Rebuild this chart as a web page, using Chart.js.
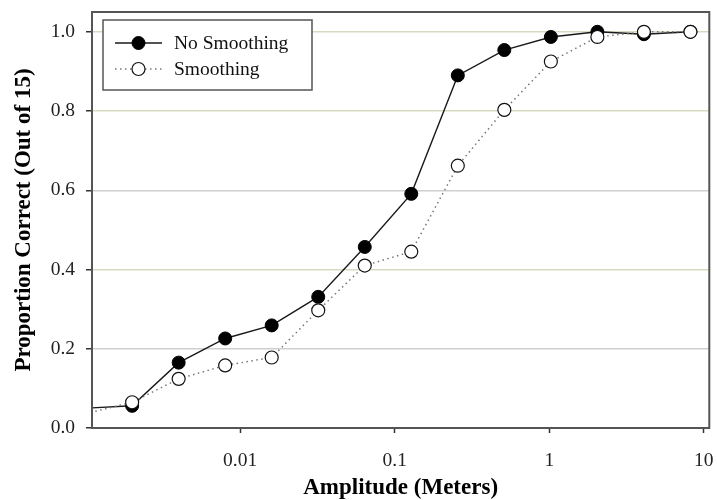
<!DOCTYPE html>
<html>
<head>
<meta charset="utf-8">
<script src="https://cdn.jsdelivr.net/npm/chart.js@4"></script>
<style>
  html, body { margin: 0; padding: 0; background: #fff; }
  #wrap { width: 717px; height: 500px; position: relative; }
</style>
</head>
<body>
<div id="wrap"><canvas id="c"></canvas></div>
<script>
// ---- data ----
const amplitudes   = [0.001, 0.002, 0.004, 0.008, 0.016, 0.032, 0.064, 0.128, 0.256, 0.512, 1.024, 2.048, 4.096, 8.192];
const noSmoothing  = [0.050, 0.056, 0.165, 0.226, 0.259, 0.331, 0.457, 0.591, 0.890, 0.954, 0.987, 1.000, 0.994, 1.000];
const smoothing    = [0.036, 0.065, 0.124, 0.158, 0.178, 0.297, 0.410, 0.445, 0.662, 0.803, 0.925, 0.987, 1.000, 1.000];
const seriesNames  = ['No Smoothing', 'Smoothing'];
const xTickValues  = [0.01, 0.1, 1, 10];
const xTickLabels  = ['0.01', '0.1', '1', '10'];
const yTickValues  = [0, 0.2, 0.4, 0.6, 0.8, 1.0];
const yTickLabels  = ['0.0', '0.2', '0.4', '0.6', '0.8', '1.0'];
const xTitle = 'Amplitude (Meters)';
const yTitle = 'Proportion Correct (Out of 15)';
const X_MIN = 0.0011, X_MAX = 10.85, Y_MIN = 0, Y_MAX = 1.05;

const FONT = "'Liberation Serif', 'Times New Roman', serif";

function pts(ys) { return amplitudes.map((a, i) => ({ x: a, y: ys[i] })); }
const radiusFn = ctx => (ctx.raw && ctx.raw.x < X_MIN) ? 0 : 6.5;

const datasets = [
  {
    label: seriesNames[0],
    data: pts(noSmoothing),
    borderColor: '#1a1a1a',
    borderWidth: 1.4,
    pointBackgroundColor: '#000',
    pointBorderColor: '#000',
    pointBorderWidth: 1,
    pointRadius: radiusFn,
    tension: 0,
    order: 1
  },
  {
    label: seriesNames[1],
    data: pts(smoothing),
    borderColor: '#777',
    borderWidth: 1.5,
    borderDash: [1.5, 3.5],
    pointBackgroundColor: '#fff',
    pointBorderColor: '#111',
    pointBorderWidth: 1.2,
    pointRadius: radiusFn,
    tension: 0,
    order: 0
  }
];

const framePlugin = {
  id: 'frameAndLegend',
  afterDraw(chart) {
    const ctx = chart.ctx, a = chart.chartArea;
    ctx.save();
    ctx.strokeStyle = '#555';
    ctx.lineWidth = 2;
    ctx.strokeRect(a.left, a.top, a.right - a.left, a.bottom - a.top);
    const bx = a.left + 11, by = a.top + 8, bw = 209, bh = 70;
    ctx.fillStyle = '#fff';
    ctx.fillRect(bx, by, bw, bh);
    ctx.strokeStyle = '#555';
    ctx.lineWidth = 1.5;
    ctx.strokeRect(bx, by, bw, bh);
    const rows = [by + 23, by + 49];
    chart.data.datasets.forEach((ds, i) => {
      const y = rows[i];
      const x0 = bx + 12, x1 = bx + 59, xm = (x0 + x1) / 2;
      ctx.beginPath();
      ctx.strokeStyle = ds.borderColor;
      ctx.lineWidth = ds.borderWidth;
      ctx.setLineDash(ds.borderDash || []);
      ctx.moveTo(x0, y); ctx.lineTo(x1, y);
      ctx.stroke();
      ctx.setLineDash([]);
      ctx.beginPath();
      ctx.arc(xm, y, 6.5, 0, Math.PI * 2);
      ctx.fillStyle = ds.pointBackgroundColor;
      ctx.fill();
      ctx.lineWidth = ds.pointBorderWidth;
      ctx.strokeStyle = ds.pointBorderColor;
      ctx.stroke();
      ctx.fillStyle = '#111';
      ctx.font = '19.5px ' + FONT;
      ctx.textBaseline = 'middle';
      ctx.textAlign = 'left';
      ctx.fillText(ds.label, bx + 71, y + 1);
    });
    ctx.restore();
  }
};

new Chart(document.getElementById('c'), {
  type: 'line',
  data: { datasets },
  plugins: [framePlugin],
  options: {
    responsive: true,
    maintainAspectRatio: false,
    animation: false,
    layout: { padding: { top: 12, right: 2, left: 0, bottom: 0 } },
    plugins: { legend: { display: false }, tooltip: { enabled: false } },
    scales: {
      x: {
        type: 'logarithmic',
        min: X_MIN, max: X_MAX,
        afterBuildTicks: s => { s.ticks = xTickValues.map(v => ({ value: v })); },
        afterFit: s => { s.height = 72; s.paddingLeft = 0; s.paddingRight = 0; },
        ticks: {
          callback: v => { const i = xTickValues.indexOf(v); return i >= 0 ? xTickLabels[i] : ''; },
          font: { family: FONT, size: 19.5 },
          color: '#222',
          padding: 16,
          maxRotation: 0,
          autoSkip: false
        },
        grid: { drawOnChartArea: false, drawTicks: true, tickLength: 5, tickColor: '#333', tickWidth: 1.5 },
        border: { color: '#555', width: 2 },
        title: { display: true, text: xTitle, font: { family: FONT, size: 23, weight: 'bold' }, color: '#000', padding: { top: 0, bottom: -2 } }
      },
      y: {
        min: Y_MIN, max: Y_MAX,
        afterBuildTicks: s => { s.ticks = yTickValues.map(v => ({ value: v })); },
        afterFit: s => { s.width = 92; s.paddingTop = 0; s.paddingBottom = 0; },
        ticks: {
          callback: v => { const i = yTickValues.indexOf(v); return i >= 0 ? yTickLabels[i] : ''; },
          font: { family: FONT, size: 19.5 },
          color: '#222',
          padding: 11
        },
        grid: {
          color: ctx => {
            const v = ctx.tick ? ctx.tick.value : null;
            if (v === 0) return 'rgba(0,0,0,0)';
            if (Math.abs(v - 0.2) < 1e-9 || Math.abs(v - 0.6) < 1e-9) return '#cfcfcb';
            return '#d9d9c2';
          },
          lineWidth: 1.5,
          drawTicks: true,
          tickLength: 6,
          tickColor: '#333',
          tickWidth: 1.5
        },
        border: { color: '#555', width: 2 },
        title: { display: true, text: yTitle, font: { family: FONT, size: 23, weight: 'bold' }, color: '#000', padding: { top: 10, bottom: 0 } }
      }
    }
  }
});
</script>
</body>
</html>
